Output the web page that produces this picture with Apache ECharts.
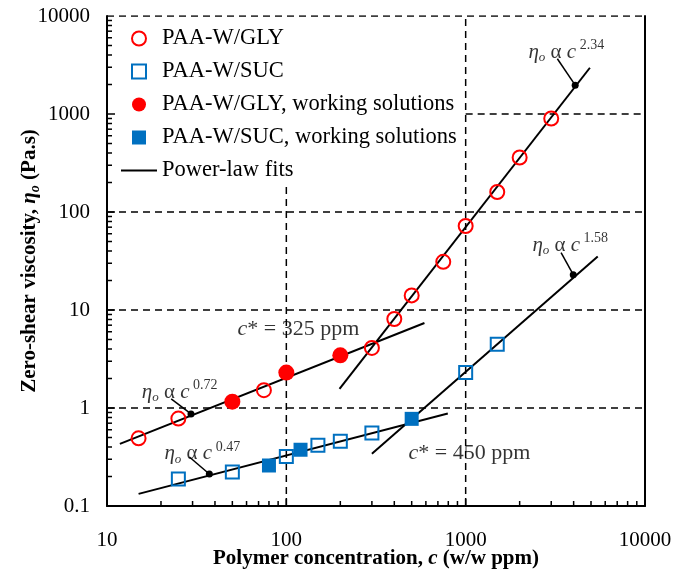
<!DOCTYPE html>
<html>
<head>
<meta charset="utf-8">
<script src="https://cdn.jsdelivr.net/npm/echarts@6/dist/echarts.min.js"></script>
<style>
  html, body { margin: 0; padding: 0; background: #fff; }
  #chart { width: 685px; height: 573px; }
</style>
</head>
<body>
<div id="chart"></div>
<script>
// Zero-shear viscosity vs. polymer concentration (log-log)
const FONT = 'Liberation Serif, "Times New Roman", serif';

// Measured series (concentration in w/w ppm, viscosity in Pa.s)
const glyConc = [15, 25, 75, 300, 400, 500, 750, 1000, 1500, 2000, 3000];
const glyVisc = [0.49, 0.78, 1.52, 4.1, 8.1, 14.1, 31, 72, 160, 360, 900];
const glyWorkConc = [50, 100, 200];
const glyWorkVisc = [1.16, 2.3, 3.45];
const sucConc = [25, 50, 100, 150, 200, 300, 1000, 1500];
const sucVisc = [0.189, 0.222, 0.32, 0.416, 0.457, 0.557, 2.3, 4.48];
const sucWorkConc = [80, 120, 500];
const sucWorkVisc = [0.259, 0.375, 0.775];

// Power-law fit segments: [c_start, eta_start, c_end, eta_end]
const fitLow072 = [11.8, 0.43, 589, 7.36];
const fitLow047 = [15, 0.133, 795, 0.879];
const fitHigh234 = [198, 1.57, 4930, 2964];
const fitHigh158 = [300, 0.341, 5450, 35.2];

// Exponent labels: exponent, point on the fit, leader start, text anchor
const expLabels = ['0.72', '0.47', '2.34', '1.58'];
const expDotConc = [29.4, 37.2, 4080, 3980];
const expDotVisc = [0.871, 0.212, 1970, 22.9];
const expLeadConc = [22.8, 28.8, 3245, 3404];
const expLeadVisc = [1.24, 0.316, 3664, 38.4];
const expTextConc = [25.4, 34.0, 3640, 3830];
const expTextVisc = [1.45, 0.34, 4250, 46];

// Critical overlap concentrations
const cStarValues = [325, 450];
const cStarTextConc = [116.7, 1050];
const cStarTextVisc = [6.3, 0.345];

// Axis ticks
const xTicks = [10, 100, 1000, 10000];
const xTickLabels = ['10', '100', '1000', '10000'];
const yTicks = [0.1, 1, 10, 100, 1000, 10000];
const yTickLabels = ['0.1', '1', '10', '100', '1000', '10000'];

// Dashed reference lines: [c1, eta1, c2, eta2]
const dashedLines = [
  [1000, 0.1, 1000, 10000],
  [100, 0.1, 100, 185],
  [10, 1, 10000, 1],
  [10, 10, 10000, 10],
  [10, 100, 10000, 100],
  [1000, 1000, 10000, 1000],
  [10, 10000, 10000, 10000]
];

const zip = (xs, ys) => xs.map((x, i) => [x, ys[i]]);
const seg = (s) => [[s[0], s[1]], [s[2], s[3]]];

// Logarithmic minor tick positions (2..9 per decade)
function minorTicks(lo, hi) {
  const out = [];
  for (let d = lo; d < hi * 0.999; d *= 10) {
    for (let k = 2; k <= 9; k++) out.push(+(d * k).toPrecision(6));
  }
  return out;
}
const xMinor = minorTicks(10, 10000);
const yMinor = minorTicks(0.1, 10000);

const RED = '#ff0000';
const BLUE = '#0070c0';
const MAJOR = 8, MINOR = 5, TICK_W = 1.5;

const series = [];

dashedLines.forEach((d) => {
  series.push({
    type: 'line', data: seg(d), symbol: 'none', silent: true, z: 1,
    lineStyle: { color: '#000', width: 1.5, type: [7, 5] }
  });
});

// Inward tick marks on the bottom and left axes
function tickSeries(data, horizontal, len) {
  return {
    type: 'scatter', silent: true, z: 3, clip: false,
    symbol: 'rect',
    symbolSize: horizontal ? [len, TICK_W] : [TICK_W, len],
    symbolOffset: horizontal ? [len / 2, 0] : [0, -len / 2],
    itemStyle: { color: '#000', opacity: 1 },
    data: data
  };
}
series.push(tickSeries(xTicks.slice(1, -1).map(v => [v, 0.1]), false, MAJOR));
series.push(tickSeries(xMinor.map(v => [v, 0.1]), false, MINOR));
series.push(tickSeries(yTicks.slice(1, -1).map(v => [10, v]), true, MAJOR));
series.push(tickSeries(yMinor.map(v => [10, v]), true, MINOR));

[fitLow072, fitLow047, fitHigh234, fitHigh158].forEach((f) => {
  series.push({
    name: 'Power-law fits', type: 'line', data: seg(f), symbol: 'none',
    lineStyle: { color: '#000', width: 2 }, itemStyle: { color: '#000' }, z: 4
  });
});

// Leader lines from labels to the fits
expLabels.forEach((e, i) => {
  series.push({
    type: 'line', silent: true, symbol: 'none', z: 4,
    data: [[expLeadConc[i], expLeadVisc[i]], [expDotConc[i], expDotVisc[i]]],
    lineStyle: { color: '#000', width: 1.5 }
  });
});

series.push({
  type: 'scatter', silent: true, z: 5, symbol: 'circle', symbolSize: 7,
  itemStyle: { color: '#000', opacity: 1 },
  data: zip(expDotConc, expDotVisc)
});

const richEq = {
  i: { fontFamily: FONT, fontStyle: 'italic', fontSize: 21, color: '#000', verticalAlign: 'middle', lineHeight: 30 },
  n: { fontFamily: FONT, fontSize: 21, color: '#000', verticalAlign: 'middle', lineHeight: 30 },
  ci: { fontFamily: FONT, fontStyle: 'italic', fontSize: 22, color: '#000', verticalAlign: 'middle', lineHeight: 30 },
  cn: { fontFamily: FONT, fontSize: 22, color: '#000', verticalAlign: 'middle', lineHeight: 30 },
  sub: { fontFamily: FONT, fontStyle: 'italic', fontSize: 13, color: '#000', verticalAlign: 'bottom', lineHeight: 30, padding: [0, 0, 3, 0] },
  sup: { fontFamily: FONT, fontSize: 14, color: '#000', verticalAlign: 'top', lineHeight: 30, padding: [1, 0, 0, 0] }
};

series.push({
  type: 'scatter', silent: true, z: 6, symbolSize: 0,
  data: expLabels.map((e, i) => ({
    value: [expTextConc[i], expTextVisc[i]],
    label: { formatter: '{i|η}{sub|o}{n| α }{i|c}{sup| ' + e + '}' }
  })),
  label: { show: true, position: 'inside', rich: richEq }
});

series.push({
  type: 'scatter', silent: true, z: 6, symbolSize: 0,
  data: cStarValues.map((v, i) => ({
    value: [cStarTextConc[i], cStarTextVisc[i]],
    label: { formatter: '{ci|c}{cn|* = ' + v + ' ppm}' }
  })),
  label: { show: true, position: 'inside', rich: richEq }
});

series.push({
  name: 'PAA-W/GLY', type: 'scatter', symbol: 'circle', symbolSize: 14, z: 7,
  itemStyle: { color: 'rgba(255,255,255,0)', borderColor: RED, borderWidth: 2, opacity: 1 },
  data: zip(glyConc, glyVisc)
});
series.push({
  name: 'PAA-W/SUC', type: 'scatter', symbol: 'rect', symbolSize: 13, z: 7,
  itemStyle: { color: 'rgba(255,255,255,0)', borderColor: BLUE, borderWidth: 2, opacity: 1 },
  data: zip(sucConc, sucVisc)
});
series.push({
  name: 'PAA-W/GLY, working solutions', type: 'scatter', symbol: 'circle', symbolSize: 16, z: 8,
  itemStyle: { color: RED, opacity: 1 },
  data: zip(glyWorkConc, glyWorkVisc)
});
series.push({
  name: 'PAA-W/SUC, working solutions', type: 'scatter', symbol: 'rect', symbolSize: 14, z: 8,
  itemStyle: { color: BLUE, opacity: 1 },
  data: zip(sucWorkConc, sucWorkVisc)
});

const SQUARE = 'path://M0,0H10V10H0Z';
const logAxisBase = {
  type: 'log', logBase: 10,
  axisLine: { show: true, lineStyle: { color: '#000', width: 2 } },
  axisTick: { show: false },
  splitLine: { show: false },
  minorTick: { show: false },
  minorSplitLine: { show: false },
  nameMoveOverlap: false
};

const option = {
  backgroundColor: '#fff',
  animation: false,
  grid: { left: 107, right: 40, top: 16, bottom: 67, containLabel: false, outerBoundsMode: 'none' },
  legend: {
    orient: 'vertical', left: 116, top: 22,
    itemWidth: 36, itemHeight: 14, itemGap: 10, symbolKeepAspect: true,
    textStyle: { fontFamily: FONT, fontSize: 22.5, color: '#000', lineHeight: 22.5 },
    data: [
      { name: 'PAA-W/GLY', icon: 'circle' },
      { name: 'PAA-W/SUC', icon: SQUARE },
      { name: 'PAA-W/GLY, working solutions', icon: 'circle' },
      { name: 'PAA-W/SUC, working solutions', icon: SQUARE },
      { name: 'Power-law fits', icon: 'path://M0,0H36V2H0Z' }
    ]
  },
  xAxis: Object.assign({}, logAxisBase, {
    min: 10, max: 10000,
    axisLabel: {
      fontFamily: FONT, fontSize: 21, color: '#000', margin: 24,
      formatter: (v) => { const i = xTicks.findIndex(t => Math.abs(t - v) / t < 1e-6); return i >= 0 ? xTickLabels[i] : ''; }
    },
    name: '{b|Polymer concentration, }{bi|c}{b| (w/w ppm)}',
    nameLocation: 'middle', nameGap: 42,
    nameTextStyle: {
      rich: {
        b: { fontFamily: FONT, fontWeight: 'bold', fontSize: 21, color: '#000' },
        bi: { fontFamily: FONT, fontWeight: 'bold', fontStyle: 'italic', fontSize: 21, color: '#000' }
      }
    }
  }),
  yAxis: [
    Object.assign({}, logAxisBase, {
      min: 0.1, max: 10000,
      axisLabel: {
        fontFamily: FONT, fontSize: 21, color: '#000', margin: 17,
        formatter: (v) => { const i = yTicks.findIndex(t => Math.abs(t - v) / t < 1e-6); return i >= 0 ? yTickLabels[i] : ''; }
      },
      name: '{b|Zero-shear viscosity, }{bi|η}{bs|o}{b| (Pa.s)}',
      nameLocation: 'middle', nameGap: 64,
      nameTextStyle: {
        rich: {
          b: { fontFamily: FONT, fontWeight: 'bold', fontSize: 21, color: '#000', verticalAlign: 'middle', lineHeight: 26 },
          bi: { fontFamily: FONT, fontWeight: 'bold', fontStyle: 'italic', fontSize: 21, color: '#000', verticalAlign: 'middle', lineHeight: 26 },
          bs: { fontFamily: FONT, fontWeight: 'bold', fontStyle: 'italic', fontSize: 14, color: '#000', verticalAlign: 'bottom', lineHeight: 26, padding: [0, 0, 1, 0] }
        }
      }
    }),
    Object.assign({}, logAxisBase, {
      min: 0.1, max: 10000, position: 'right',
      axisLabel: { show: false }
    })
  ],
  series: series
};

const chart = echarts.init(document.getElementById('chart'), null, { renderer: 'canvas' });
chart.setOption(option);
</script>
</body>
</html>
